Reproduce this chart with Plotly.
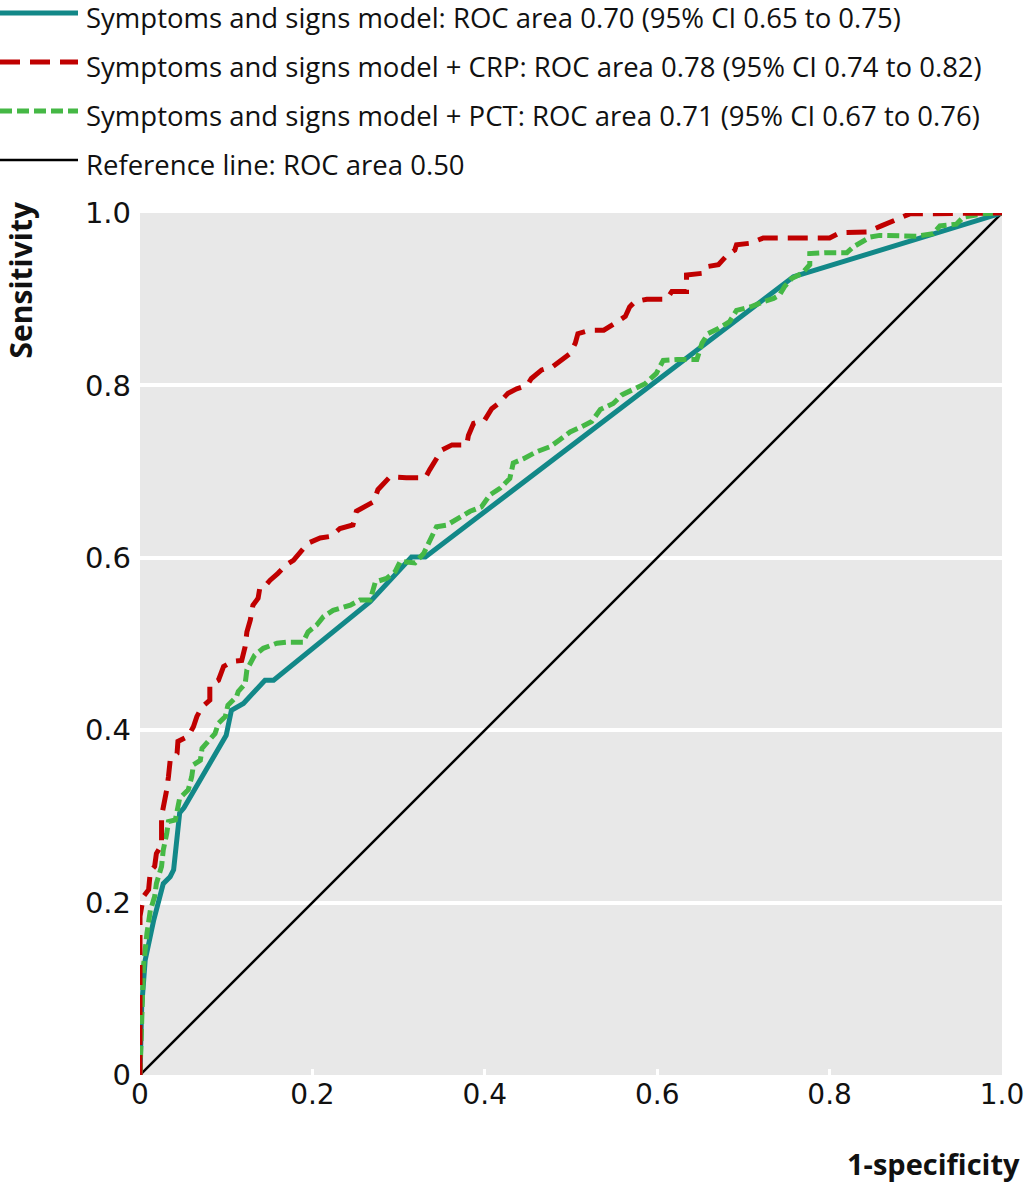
import plotly.graph_objects as go

# ---------------- data ----------------
series_names = [
    "Symptoms and signs model: ROC area 0.70 (95% CI 0.65 to 0.75)",
    "Symptoms and signs model + CRP: ROC area 0.78 (95% CI 0.74 to 0.82)",
    "Symptoms and signs model + PCT: ROC area 0.71 (95% CI 0.67 to 0.76)",
    "Reference line: ROC area 0.50",
]

ss_fpr = [0, 0.002, 0.006, 0.012, 0.016, 0.027, 0.035, 0.039, 0.046, 0.051, 0.100, 0.106,
          0.120, 0.145, 0.155, 0.267, 0.315, 0.331, 0.758, 0.768, 1.0]
ss_tpr = [0, 0.080, 0.133, 0.165, 0.180, 0.222, 0.230, 0.238, 0.304, 0.310, 0.394, 0.423,
          0.431, 0.458, 0.458, 0.549, 0.601, 0.601, 0.926, 0.929, 1.0]

crp_fpr = [0, 0, 0.004, 0.010, 0.012, 0.017, 0.019, 0.025, 0.025, 0.029, 0.031, 0.033, 0.035,
           0.043, 0.044, 0.056, 0.062, 0.066, 0.072, 0.081, 0.081, 0.091, 0.097, 0.108, 0.118,
           0.122, 0.124, 0.128, 0.131, 0.137, 0.139, 0.145, 0.151, 0.160, 0.170, 0.178, 0.186,
           0.195, 0.209, 0.222, 0.232, 0.247, 0.251, 0.259, 0.271, 0.276, 0.282, 0.290, 0.309,
           0.331, 0.336, 0.342, 0.350, 0.362, 0.379, 0.381, 0.387, 0.400, 0.408, 0.416, 0.427,
           0.437, 0.449, 0.454, 0.466, 0.479, 0.489, 0.499, 0.505, 0.508, 0.522, 0.538, 0.551,
           0.563, 0.568, 0.574, 0.588, 0.611, 0.617, 0.634, 0.634, 0.652, 0.659, 0.671, 0.681,
           0.690, 0.692, 0.708, 0.723, 0.781, 0.800, 0.812, 0.843, 0.860, 0.878, 0.893, 1.0]
crp_tpr = [0, 0.184, 0.207, 0.215, 0.236, 0.242, 0.257, 0.267, 0.300, 0.317, 0.331, 0.346, 0.365,
           0.373, 0.387, 0.393, 0.404, 0.416, 0.427, 0.435, 0.452, 0.458, 0.474, 0.480, 0.481,
           0.497, 0.514, 0.528, 0.545, 0.553, 0.565, 0.567, 0.574, 0.582, 0.592, 0.597, 0.607,
           0.617, 0.623, 0.625, 0.634, 0.638, 0.654, 0.659, 0.665, 0.679, 0.686, 0.694, 0.693,
           0.693, 0.702, 0.713, 0.725, 0.731, 0.731, 0.742, 0.756, 0.760, 0.773, 0.779, 0.791,
           0.796, 0.800, 0.808, 0.818, 0.822, 0.829, 0.837, 0.849, 0.860, 0.864, 0.864, 0.872,
           0.880, 0.891, 0.897, 0.900, 0.900, 0.909, 0.909, 0.928, 0.930, 0.938, 0.940, 0.951,
           0.957, 0.963, 0.965, 0.971, 0.971, 0.971, 0.977, 0.978, 0.985, 0.992, 0.999, 1.0]

pct_fpr = [0, 0.002, 0.004, 0.008, 0.012, 0.017, 0.019, 0.025, 0.027, 0.031, 0.033, 0.041, 0.043,
           0.046, 0.056, 0.060, 0.062, 0.070, 0.072, 0.079, 0.087, 0.091, 0.099, 0.102, 0.112,
           0.114, 0.122, 0.124, 0.128, 0.133, 0.143, 0.159, 0.170, 0.189, 0.195, 0.205, 0.213,
           0.224, 0.244, 0.255, 0.267, 0.273, 0.286, 0.296, 0.302, 0.319, 0.329, 0.344, 0.356,
           0.371, 0.383, 0.396, 0.406, 0.418, 0.429, 0.433, 0.445, 0.460, 0.476, 0.487, 0.499,
           0.512, 0.524, 0.534, 0.549, 0.559, 0.572, 0.586, 0.599, 0.607, 0.623, 0.646, 0.652,
           0.659, 0.671, 0.684, 0.692, 0.708, 0.723, 0.735, 0.742, 0.748, 0.756, 0.768, 0.777,
           0.777, 0.797, 0.820, 0.828, 0.837, 0.847, 0.858, 0.878, 0.901, 0.920, 0.928, 0.947,
           0.955, 0.978, 1.0]
pct_tpr = [0, 0.049, 0.126, 0.164, 0.191, 0.207, 0.222, 0.242, 0.261, 0.280, 0.294, 0.296, 0.307,
           0.321, 0.331, 0.346, 0.360, 0.365, 0.379, 0.387, 0.396, 0.408, 0.416, 0.429, 0.439,
           0.445, 0.454, 0.470, 0.478, 0.487, 0.495, 0.501, 0.502, 0.502, 0.514, 0.522, 0.532,
           0.539, 0.545, 0.551, 0.551, 0.572, 0.576, 0.584, 0.596, 0.594, 0.605, 0.636, 0.638,
           0.646, 0.654, 0.659, 0.673, 0.681, 0.692, 0.710, 0.715, 0.723, 0.729, 0.737, 0.746,
           0.752, 0.758, 0.772, 0.779, 0.789, 0.795, 0.802, 0.814, 0.829, 0.830, 0.830, 0.849,
           0.860, 0.866, 0.874, 0.887, 0.891, 0.897, 0.901, 0.905, 0.915, 0.924, 0.930, 0.940,
           0.953, 0.954, 0.954, 0.961, 0.967, 0.972, 0.974, 0.973, 0.973, 0.976, 0.985, 0.987,
           0.995, 0.999, 1.0]

ref_fpr = [0, 1]
ref_tpr = [0, 1]

tick_vals = [0, 0.2, 0.4, 0.6, 0.8, 1.0]
tick_text = ["0", "0.2", "0.4", "0.6", "0.8", "1.0"]

# ---------------- styles ----------------
FONT = "Open Sans"
TICKFONT = "DejaVu Sans"
colors = ["#128888", "#c00000", "#45b845", "#000000"]
widths = [5, 5, 5, 2.5]
dashes = ["solid", "20px,10px", "12px,5px", "solid"]

xs = [ss_fpr, crp_fpr, pct_fpr, ref_fpr]
ys = [ss_tpr, crp_tpr, pct_tpr, ref_tpr]

fig = go.Figure()
order = [3, 0, 2, 1]
for i in order:
    fig.add_trace(go.Scatter(
        x=xs[i], y=ys[i], mode="lines", name=series_names[i],
        line=dict(color=colors[i], width=widths[i], dash=dashes[i]),
        showlegend=False, cliponaxis=False,
    ))

W, H = 1024, 1183
L, R, T, B = 140, 22, 213, 108
pw, ph = W - L - R, H - T - B


def px2paper_x(px):
    return (px - L) / pw


def px2paper_y(py):
    return (H - B - py) / ph


shapes = []
annotations = []
row_y = [13, 62, 111, 160]
for k in range(4):
    yp = px2paper_y(row_y[k])
    shapes.append(dict(
        type="line", xref="paper", yref="paper",
        x0=px2paper_x(0), x1=px2paper_x(78), y0=yp, y1=yp,
        line=dict(color=colors[k], width=widths[k], dash=dashes[k]),
    ))
    annotations.append(dict(
        xref="paper", yref="paper", x=px2paper_x(85), y=px2paper_y(row_y[k] + 4),
        xanchor="left", yanchor="middle", showarrow=False, borderpad=0,
        text=series_names[k], font=dict(family=FONT, size=27.5, color="#111"),
    ))

annotations.append(dict(
    xref="paper", yref="paper", x=px2paper_x(20), y=px2paper_y(200),
    xanchor="center", yanchor="top", showarrow=False, textangle=-90,
    text="<b>Sensitivity</b>", font=dict(family=FONT, size=30, color="#111"),
))
annotations.append(dict(
    xref="paper", yref="paper", x=px2paper_x(1022), y=px2paper_y(1163),
    xanchor="right", yanchor="middle", showarrow=False,
    text="<b>1-specificity</b>", font=dict(family=FONT, size=29, color="#111"),
))

fig.update_layout(
    width=W, height=H, autosize=False,
    margin=dict(l=L, r=R, t=T, b=B, pad=0, autoexpand=False),
    paper_bgcolor="white", plot_bgcolor="#e8e8e8",
    shapes=shapes, annotations=annotations,
    font=dict(family=FONT, color="#111"),
)
fig.update_xaxes(
    range=[0, 1], tickvals=tick_vals, ticktext=tick_text, automargin=False,
    showgrid=False, zeroline=False, showline=False,
    ticks="inside", tickcolor="white", ticklen=6, tickwidth=3,
    ticklabeloverflow="allow",
    tickfont=dict(family=TICKFONT, size=28, color="#111"), fixedrange=True,
)
fig.update_yaxes(
    range=[0, 1], tickvals=tick_vals, ticktext=tick_text, automargin=False,
    showgrid=True, gridcolor="white", gridwidth=4, zeroline=False, showline=False,
    ticks="", ticklabelstandoff=8, ticklabeloverflow="allow",
    tickfont=dict(family=TICKFONT, size=29, color="#111"), fixedrange=True,
)

fig.write_html(
    "out.html",
    config={"displayModeBar": False},
    post_script="document.body.style.margin='0';document.body.style.padding='0';",
)
